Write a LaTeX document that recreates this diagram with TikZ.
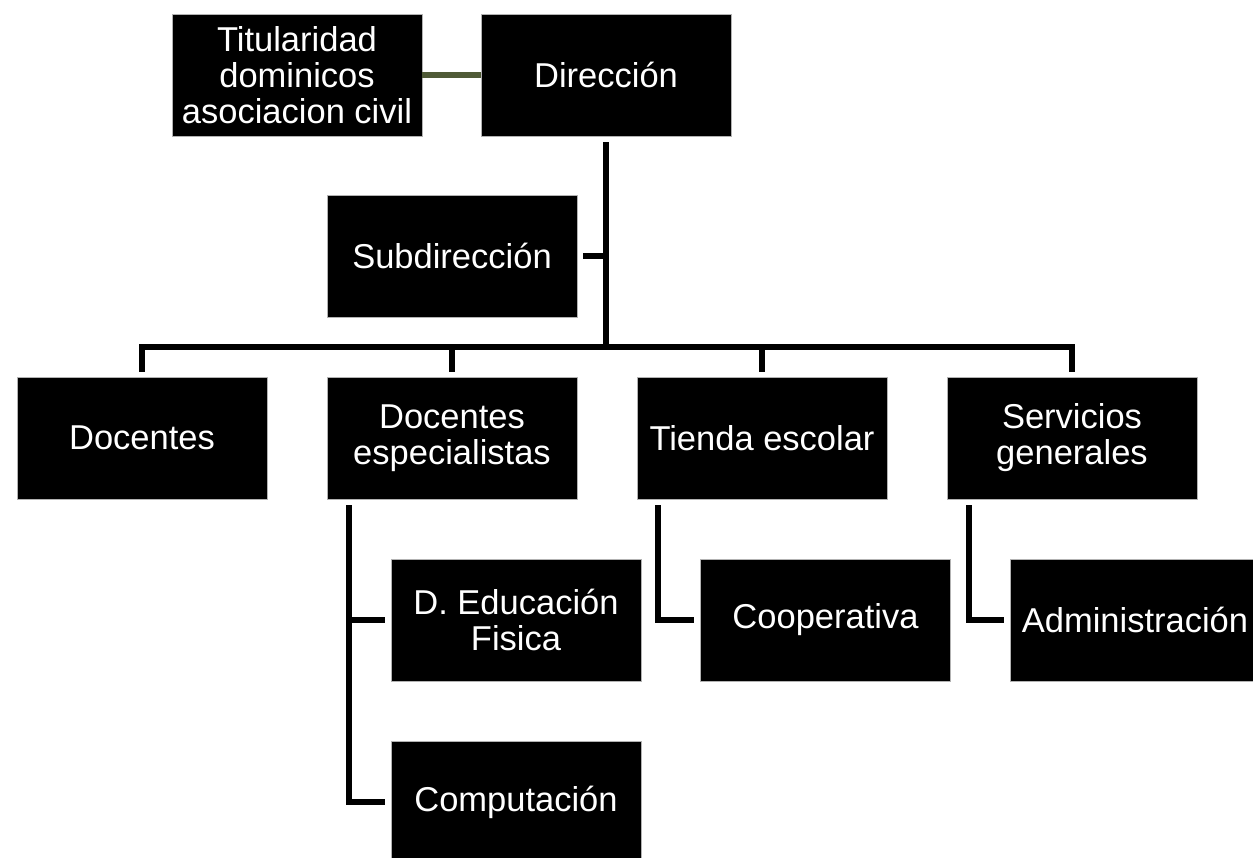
\documentclass[tikz,border=0pt]{standalone}
\usepackage{fontspec}
\setmainfont{Liberation Sans}
\usetikzlibrary{calc}
\definecolor{linkolive}{HTML}{4F5A36}
\begin{document}
\begin{tikzpicture}[x=1pt,y=-1pt,
  box/.style={fill=black, draw=gray!60, line width=0.6pt, text=white,
    minimum width=250pt, minimum height=122pt, inner sep=0pt, align=center,
    font=\fontsize{34.5}{36}\selectfont},
  conn/.style={draw=black, line width=5.5pt, line join=miter},
]
\useasboundingbox (0,0) rectangle (1253,857);
\fill[white] (0,0) rectangle (1253,857);

\node[box] (tit) at (297,75) {Titularidad\\dominicos\\asociacion civil};
\node[box] (dir) at (606,75) {Dirección};
\node[box] (sub) at (452,256) {Subdirección};
\node[box] (doc) at (142,438) {Docentes};
\node[box] (esp) at (452,438) {Docentes\\especialistas};
\node[box] (tie) at (762,438) {Tienda escolar};
\node[box] (ser) at (1072,438) {Servicios\\generales};
\node[box] (edu) at (516,620) {D. Educación\\Fisica};
\node[box] (coo) at (825.5,620) {Cooperativa};
\node[box] (adm) at (1135,620) {Administración};
\node[box] (com) at (516,802) {Computación};

% Titularidad - Direccion
\draw[draw=linkolive, line width=5.5pt] (tit.east) -- (dir.west);

% main trunk
\coordinate (top) at (606,142);
\coordinate (bus) at (606,347);
\coordinate (busL) at (142,347);
\coordinate (busR) at (1072,347);
\draw[conn] (top) -- (bus);
\draw[conn] ([xshift=6pt]sub.east) -- (sub.east -| top);
\draw[conn] ([yshift=5pt]doc.north) -- (busL) -- (busR) -- ([yshift=5pt]ser.north);
\draw[conn] ([yshift=5pt]esp.north) -- (esp.north |- busL);
\draw[conn] ([yshift=5pt]tie.north) -- (tie.north |- busL);

% Docentes especialistas branch
\coordinate (ev1) at (349,505);
\coordinate (ej) at (349,620);
\coordinate (ev2) at (349,802);
\draw[conn] (ev1) -- (ev2) -- ([xshift=-6pt]com.west);
\draw[conn] (ej) -- ([xshift=-6pt]edu.west);

% Tienda escolar branch
\coordinate (tv1) at (658,505);
\coordinate (tj) at (658,620);
\draw[conn] (tv1) -- (tj) -- ([xshift=-6pt]coo.west);

% Servicios generales branch
\coordinate (sv1) at (969,505);
\coordinate (sj) at (969,620);
\draw[conn] (sv1) -- (sj) -- ([xshift=-6pt]adm.west);
\end{tikzpicture}
\end{document}
